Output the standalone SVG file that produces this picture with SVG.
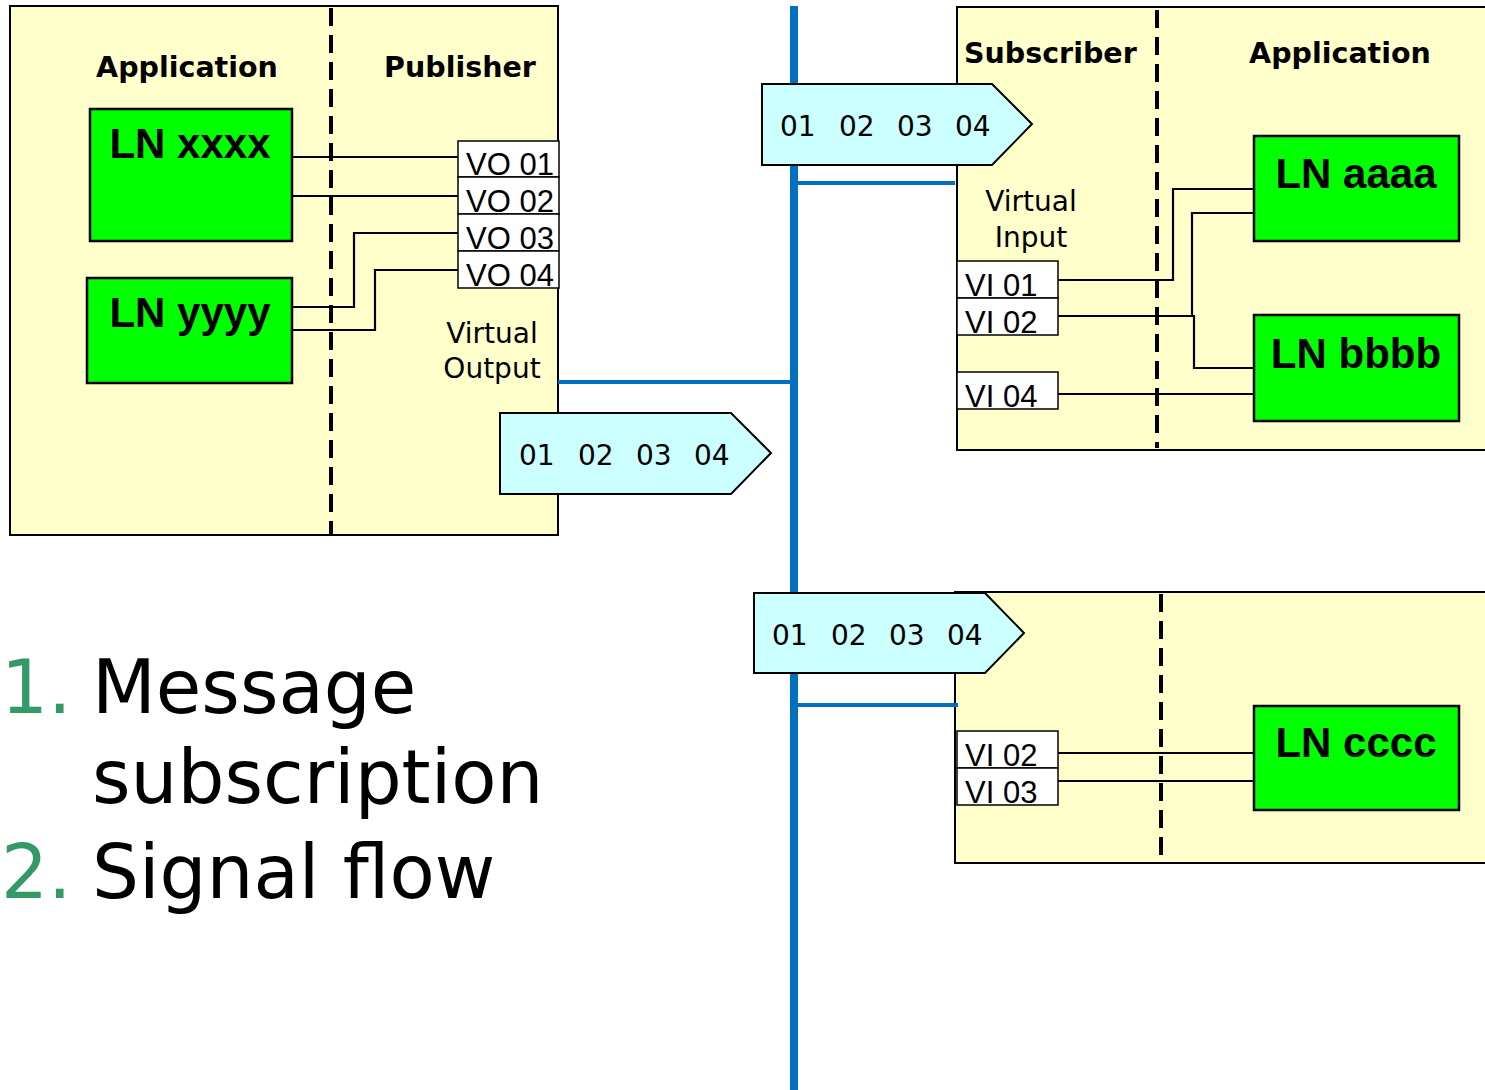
<svg xmlns="http://www.w3.org/2000/svg" width="1485" height="1090" viewBox="0 0 1485 1090">
<style>
.panel{fill:#ffffcc;stroke:#000;stroke-width:2}
.dash{stroke:#000;stroke-width:4;stroke-dasharray:18 9;fill:none}
.ln{fill:#00ff00;stroke:#000;stroke-width:2.5}
.lnt{font-family:"Liberation Sans",Arial,sans-serif;font-weight:bold;font-size:42px;fill:#000;text-anchor:middle}
.hdr{font-family:"DejaVu Sans",Verdana,sans-serif;font-weight:bold;font-size:28.5px;fill:#000}
.vt{font-family:"DejaVu Sans",Verdana,sans-serif;font-size:28px;fill:#000;text-anchor:middle}
.port{fill:#fff;stroke:#000;stroke-width:1.5}
.pt{font-family:"Liberation Sans",Arial,sans-serif;font-size:31px;fill:#000}
.msg{fill:#ccffff;stroke:#000;stroke-width:2}
.mt{font-family:"DejaVu Sans",Verdana,sans-serif;font-size:28px;fill:#000}
.wire{stroke:#000;stroke-width:2.2;fill:none}
.bus{stroke:#0070c0;fill:none}
.list{font-family:"DejaVu Sans",Verdana,sans-serif;font-size:74px;fill:#000}
.num{fill:#339966}
</style>

<g id="publisher">
<rect class="panel" x="10" y="6" width="548" height="529"/>
<line class="dash" x1="331" y1="8" x2="331" y2="535"/>
<text class="hdr" x="187" y="77" text-anchor="middle">Application</text>
<text class="hdr" x="460" y="77" text-anchor="middle">Publisher</text>
<text class="vt" x="492" y="343">Virtual</text>
<text class="vt" x="492" y="378">Output</text>
</g>

<g id="subscriber1">
<rect class="panel" x="957" y="7" width="540" height="443"/>
<line class="dash" x1="1157" y1="10" x2="1157" y2="448"/>
<text class="hdr" x="964" y="63">Subscriber</text>
<text class="hdr" x="1340" y="63" text-anchor="middle">Application</text>
<text class="vt" x="1031" y="211">Virtual</text>
<text class="vt" x="1031" y="247">Input</text>
</g>

<g id="subscriber2">
<rect class="panel" x="955" y="592" width="540" height="271"/>
<line class="dash" x1="1161" y1="594" x2="1161" y2="862"/>
</g>

<g id="connectors">
<line class="bus" x1="794" y1="6" x2="794" y2="1090" stroke-width="8"/>
<line class="bus" x1="558" y1="382" x2="794" y2="382" stroke-width="4"/>
<line class="bus" x1="794" y1="183" x2="955" y2="183" stroke-width="4"/>
<line class="bus" x1="794" y1="705" x2="958" y2="705" stroke-width="4"/>
<polyline class="wire" points="292,157 458,157"/>
<polyline class="wire" points="292,196 458,196"/>
<polyline class="wire" points="458,233 354,233 354,307 292,307"/>
<polyline class="wire" points="458,270 375,270 375,330 292,330"/>
<polyline class="wire" points="1058,280 1173,280 1173,189 1254,189"/>
<polyline class="wire" points="1058,316 1192,316 1192,213 1254,213"/>
<polyline class="wire" points="1192,316 1194,316 1194,368 1254,368"/>
<polyline class="wire" points="1058,394 1254,394"/>
<polyline class="wire" points="1058,753 1254,753"/>
<polyline class="wire" points="1058,781 1254,781"/>
</g>

<g id="ln-xxxx">
<rect class="ln" x="90" y="109" width="202" height="132"/>
<text class="lnt" x="190" y="158">LN xxxx</text>
</g>
<g id="ln-yyyy">
<rect class="ln" x="87" y="278" width="205" height="105"/>
<text class="lnt" x="190" y="327">LN yyyy</text>
</g>

<g id="vo-ports">
<rect class="port" x="458" y="141" width="101" height="36"/>
<rect class="port" x="458" y="177" width="101" height="37"/>
<rect class="port" x="458" y="214" width="101" height="37"/>
<rect class="port" x="458" y="251" width="101" height="37"/>
<text class="pt" x="466" y="175">VO 01</text>
<text class="pt" x="466" y="212">VO 02</text>
<text class="pt" x="466" y="249">VO 03</text>
<text class="pt" x="466" y="286">VO 04</text>
</g>

<g id="ln-aaaa">
<rect class="ln" x="1254" y="136" width="205" height="105"/>
<text class="lnt" x="1356" y="188">LN aaaa</text>
</g>
<g id="ln-bbbb">
<rect class="ln" x="1254" y="315" width="205" height="106"/>
<text class="lnt" x="1356" y="368">LN bbbb</text>
</g>
<g id="vi-ports1">
<rect class="port" x="957" y="261" width="101" height="37"/>
<rect class="port" x="957" y="298" width="101" height="37"/>
<rect class="port" x="957" y="372" width="101" height="37"/>
<text class="pt" x="965" y="296">VI 01</text>
<text class="pt" x="965" y="333">VI 02</text>
<text class="pt" x="965" y="407">VI 04</text>
</g>

<g id="ln-cccc">
<rect class="ln" x="1254" y="706" width="205" height="104"/>
<text class="lnt" x="1356" y="757">LN cccc</text>
</g>
<g id="vi-ports2">
<rect class="port" x="957" y="731" width="101" height="37"/>
<rect class="port" x="957" y="768" width="101" height="37"/>
<text class="pt" x="965" y="766">VI 02</text>
<text class="pt" x="965" y="803">VI 03</text>
</g>

<g id="msg1">
<polygon class="msg" points="500,413 731,413 771,453 731,494 500,494"/>
<text class="mt" y="465"><tspan x="519">01</tspan><tspan x="578">02</tspan><tspan x="636">03</tspan><tspan x="694">04</tspan></text>
</g>
<g id="msg2">
<polygon class="msg" points="762,84 992,84 1032,124 992,165 762,165"/>
<text class="mt" y="136"><tspan x="780">01</tspan><tspan x="839">02</tspan><tspan x="897">03</tspan><tspan x="955">04</tspan></text>
</g>
<g id="msg3">
<polygon class="msg" points="754,593 985,593 1024,633 985,673 754,673"/>
<text class="mt" y="645"><tspan x="772">01</tspan><tspan x="831">02</tspan><tspan x="889">03</tspan><tspan x="947">04</tspan></text>
</g>

<g id="list">
<text class="list" x="1" y="713"><tspan class="num">1.</tspan></text>
<text class="list" x="92" y="713">Message</text>
<text class="list" x="92" y="803">subscription</text>
<text class="list" x="1" y="898"><tspan class="num">2.</tspan></text>
<text class="list" x="92" y="898">Signal flow</text>
</g>
</svg>
